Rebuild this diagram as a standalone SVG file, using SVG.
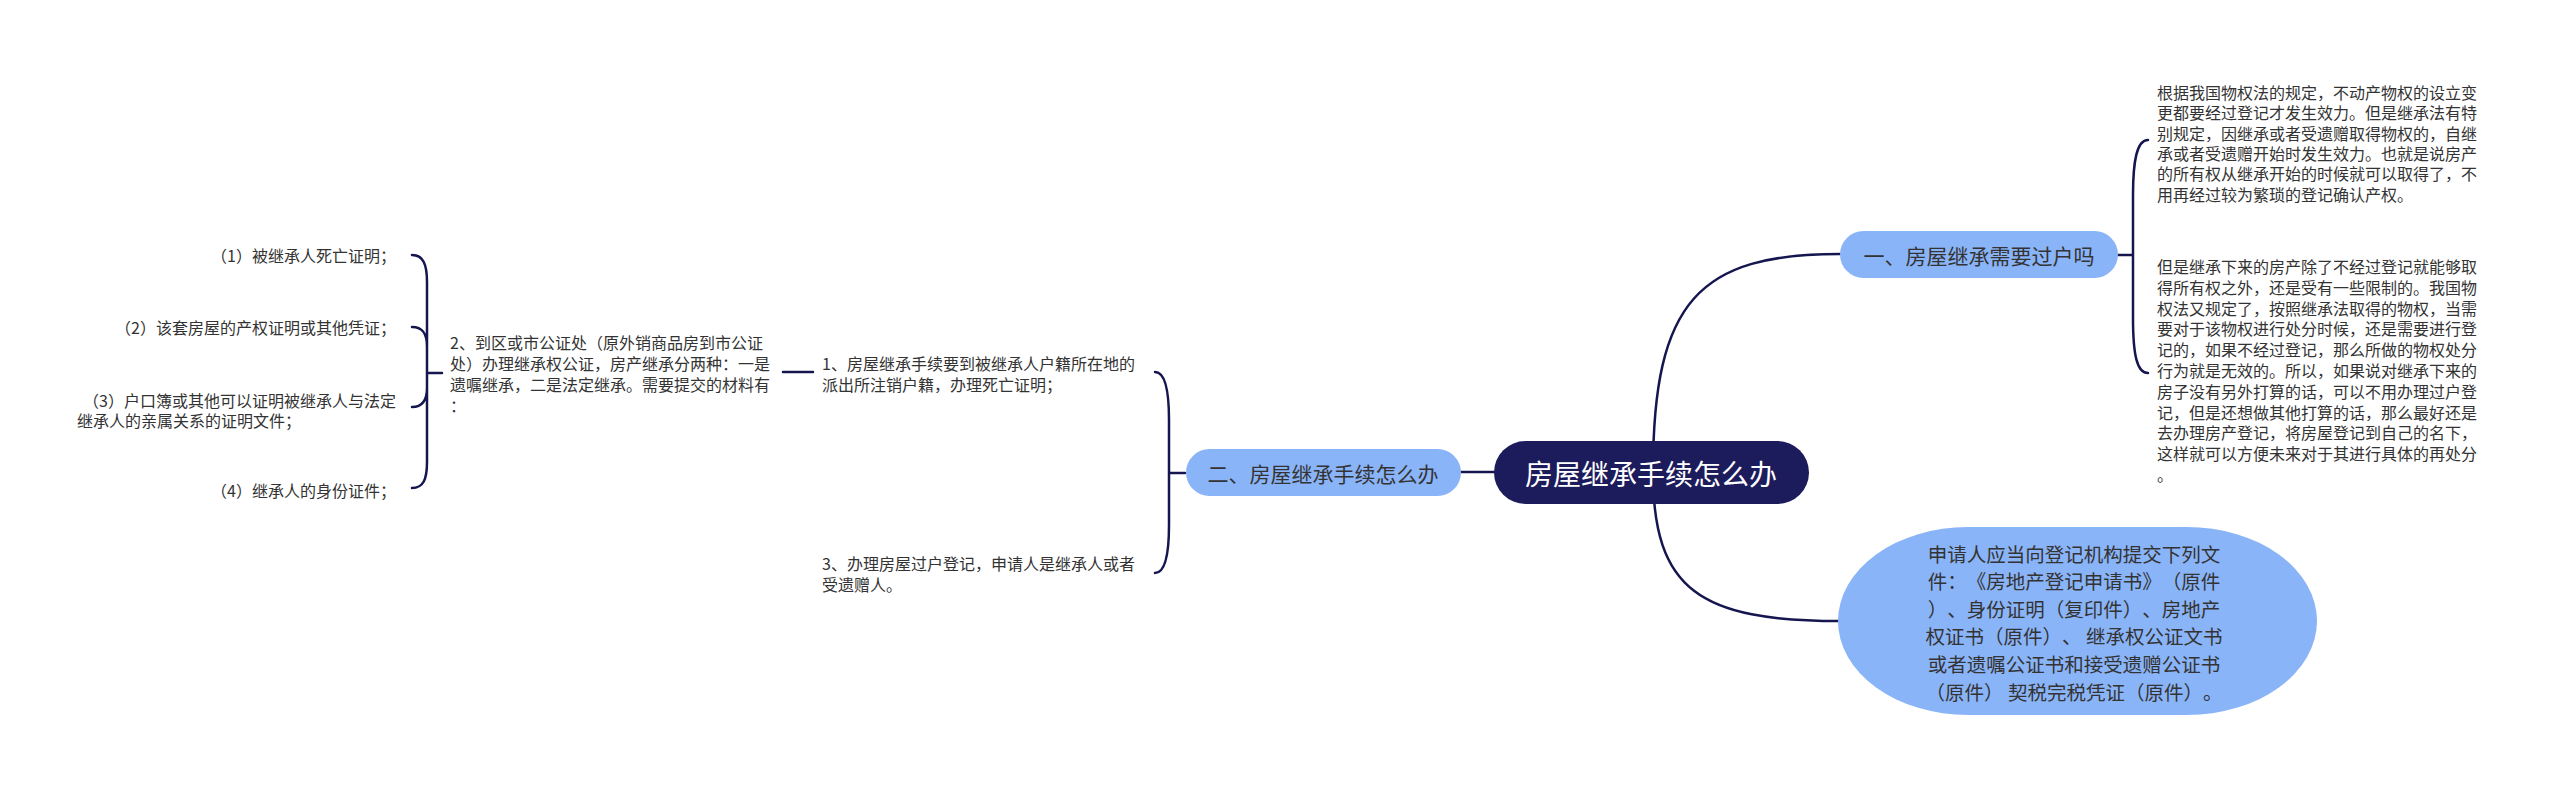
<svg xmlns="http://www.w3.org/2000/svg" width="2560" height="785" viewBox="0 0 2560 785">
<style>
text{font-family:"Noto Sans CJK SC","Noto Sans",sans-serif;dominant-baseline:central;text-spacing-trim:space-all;font-kerning:none}
.s{font-size:16px;fill:#333}
.b{font-size:21px;fill:#333;text-anchor:middle}
.big{font-size:19.5px;fill:#333;text-anchor:middle}
.r{font-size:28px;fill:#fff;text-anchor:middle}
.e{text-anchor:end}
.ln{fill:none;stroke:#15154f;stroke-width:2.5;stroke-linecap:round}
.br{fill:#8ab4f8}
</style>
<rect width="2560" height="785" fill="#fff"/>
<g id="connectors">
<path class="ln" d="M1653,472 C1653,300 1700,254 1840,254"/>
<path class="ln" d="M1653,472 C1653,590 1700,621 1840,621"/>
<path class="ln" d="M1461,472 L1494,472"/>
<path class="ln" d="M2118,255 L2133,255 L2133,195 C2133,160 2137,140 2148,140 M2133,255 L2133,318 C2133,355 2137,373 2148,373"/>
<path class="ln" d="M1185,473 L1169,473 L1169,420 C1169,390 1165,372 1155,372 M1169,473 L1169,525 C1169,555 1165,573 1155,573"/>
<path class="ln" d="M783,372 L813,372"/>
<path class="ln" d="M442,373 L427,373 L427,282 C427,264 423,255 412,255 M427,373 L427,347 C427,334 423,327 412,327 M427,373 L427,388 C427,400 423,407 412,407 M427,373 L427,462 C427,480 423,488 412,488"/>
</g>
<g id="root">
<rect x="1494" y="441" width="315" height="63" rx="31.5" fill="#1c1b5c"/>
<text class="r" x="1651" y="473">房屋继承手续怎么办</text>
</g>
<g id="branch1">
<rect class="br" x="1840" y="231" width="278" height="47" rx="23.5"/>
<text class="b" x="1979" y="255">一、房屋继承需要过户吗</text>
</g>
<g id="branch1-text1">
<text class="s" x="2157" y="92">根据我国物权法的规定，不动产物权的设立变</text>
<text class="s" x="2157" y="112.3">更都要经过登记才发生效力。但是继承法有特</text>
<text class="s" x="2157" y="132.6">别规定，因继承或者受遗赠取得物权的，自继</text>
<text class="s" x="2157" y="152.9">承或者受遗赠开始时发生效力。也就是说房产</text>
<text class="s" x="2157" y="173.2">的所有权从继承开始的时候就可以取得了，不</text>
<text class="s" x="2157" y="193.5">用再经过较为繁琐的登记确认产权。</text>
</g>
<g id="branch1-text2">
<text class="s" x="2157" y="266">但是继承下来的房产除了不经过登记就能够取</text>
<text class="s" x="2157" y="286.8">得所有权之外，还是受有一些限制的。我国物</text>
<text class="s" x="2157" y="307.6">权法又规定了，按照继承法取得的物权，当需</text>
<text class="s" x="2157" y="328.4">要对于该物权进行处分时候，还是需要进行登</text>
<text class="s" x="2157" y="349.2">记的，如果不经过登记，那么所做的物权处分</text>
<text class="s" x="2157" y="370">行为就是无效的。所以，如果说对继承下来的</text>
<text class="s" x="2157" y="390.8">房子没有另外打算的话，可以不用办理过户登</text>
<text class="s" x="2157" y="411.6">记，但是还想做其他打算的话，那么最好还是</text>
<text class="s" x="2157" y="432.4">去办理房产登记，将房屋登记到自己的名下，</text>
<text class="s" x="2157" y="453.2">这样就可以方便未来对于其进行具体的再处分</text>
<text class="s" x="2157" y="474">。</text>
</g>
<g id="branch3">
<rect class="br" x="1838" y="527" width="479" height="188" rx="130" ry="94"/>
<text class="big" x="2074" y="553">申请人应当向登记机构提交下列文</text>
<text class="big" x="2074" y="580.6">件：《房地产登记申请书》（原件</text>
<text class="big" x="2074" y="608.2">）、身份证明（复印件）、房地产</text>
<text class="big" x="2074" y="635.8">权证书（原件）、 继承权公证文书</text>
<text class="big" x="2074" y="663.4">或者遗嘱公证书和接受遗赠公证书</text>
<text class="big" x="2074" y="691">（原件） 契税完税凭证（原件）。</text>
</g>
<g id="branch2">
<rect class="br" x="1186" y="449" width="275" height="47" rx="23.5"/>
<text class="b" x="1323" y="473">二、房屋继承手续怎么办</text>
</g>
<g id="item1">
<text class="s" x="822" y="363">1、房屋继承手续要到被继承人户籍所在地的</text>
<text class="s" x="822" y="383.5">派出所注销户籍，办理死亡证明；</text>
</g>
<g id="item3">
<text class="s" x="822" y="563">3、办理房屋过户登记，申请人是继承人或者</text>
<text class="s" x="822" y="584">受遗赠人。</text>
</g>
<g id="item2">
<text class="s" x="450" y="342">2、到区或市公证处（原外销商品房到市公证</text>
<text class="s" x="450" y="363">处）办理继承权公证，房产继承分两种：一是</text>
<text class="s" x="450" y="384">遗嘱继承，二是法定继承。需要提交的材料有</text>
<text class="s" x="450" y="405">：</text>
</g>
<g id="mat1"><text class="s e" x="396" y="255">（1）被继承人死亡证明；</text></g>
<g id="mat2"><text class="s e" x="396" y="327">（2）该套房屋的产权证明或其他凭证；</text></g>
<g id="mat3">
<text class="s e" x="396" y="400">（3）户口簿或其他可以证明被继承人与法定</text>
<text class="s" x="77" y="420">继承人的亲属关系的证明文件；</text>
</g>
<g id="mat4"><text class="s e" x="396" y="490">（4）继承人的身份证件；</text></g>
</svg>
